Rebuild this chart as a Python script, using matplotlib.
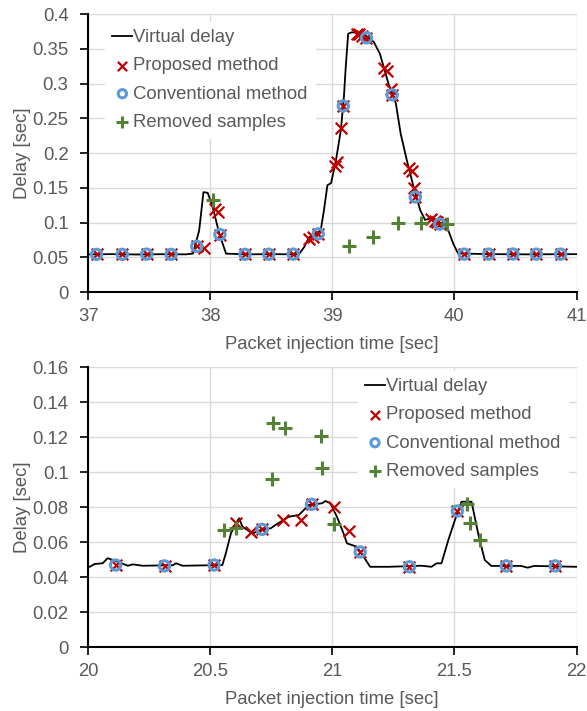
import matplotlib.pyplot as plt

plt.rcParams['font.family'] = ['Liberation Sans', 'DejaVu Sans']

## Top panel data (37-41 sec)
vd_t_top = [37.0, 37.2, 37.4, 37.6, 37.8, 37.86, 37.91, 37.945, 37.98, 38.02, 38.075, 38.13,
             38.3, 38.5, 38.7, 38.73, 38.77, 38.81, 38.86, 38.905, 38.93, 38.96, 38.99, 39.03,
             39.07, 39.095, 39.11, 39.13, 39.16, 39.22, 39.27, 39.34, 39.39, 39.46, 39.52,
             39.56, 39.61, 39.665, 39.72, 39.76, 39.80, 39.84, 39.91, 39.95, 39.99, 40.03,
             40.3, 40.6, 41.0]
vd_top = [0.0545, 0.0548, 0.0543, 0.0547, 0.0545, 0.0557, 0.089, 0.144, 0.143, 0.123, 0.084, 0.0555,
          0.0545, 0.0548, 0.0545, 0.0555, 0.065, 0.079, 0.084, 0.089, 0.116, 0.154, 0.157, 0.19,
          0.233, 0.281, 0.324, 0.372, 0.374, 0.373, 0.370, 0.360, 0.343, 0.300, 0.272,
          0.228, 0.19, 0.152, 0.118, 0.104, 0.106, 0.101, 0.099, 0.089, 0.070, 0.0557,
          0.0548, 0.0545, 0.0548]

prop_t_top = [37.07, 37.28, 37.48, 37.68, 37.89, 37.95, 38.04, 38.06, 38.08, 38.285, 38.48, 38.68,
              38.81, 38.84, 38.885, 39.02, 39.04, 39.07, 39.09, 39.20, 39.22, 39.24, 39.28,
              39.42, 39.45, 39.48, 39.49, 39.63, 39.65, 39.67, 39.68, 39.81, 39.84, 39.86, 39.88,
              40.08, 40.28, 40.48, 40.67, 40.87]
prop_top = [0.0545, 0.0545, 0.0548, 0.0545, 0.066, 0.064, 0.120, 0.115, 0.083, 0.0545, 0.0547, 0.0548,
            0.077, 0.080, 0.084, 0.182, 0.188, 0.237, 0.268, 0.372, 0.371, 0.369, 0.366,
            0.323, 0.318, 0.292, 0.284, 0.179, 0.174, 0.150, 0.137, 0.105, 0.103, 0.101, 0.098,
            0.0548, 0.0548, 0.055, 0.0548, 0.0548]

conv_t_top = [37.07, 37.28, 37.48, 37.68, 37.89, 38.08, 38.285, 38.48, 38.68, 38.885, 39.09,
              39.28, 39.49, 39.68, 39.88, 40.08, 40.28, 40.48, 40.67, 40.87]
conv_top = [0.0545, 0.0545, 0.0548, 0.0545, 0.066, 0.083, 0.0545, 0.0547, 0.0548, 0.084, 0.268,
            0.366, 0.284, 0.137, 0.098, 0.0548, 0.0548, 0.055, 0.0548, 0.0548]

rem_t_top = [38.02, 39.14, 39.33, 39.54, 39.73, 39.94]
rem_top = [0.132, 0.066, 0.079, 0.099, 0.099, 0.098]

## Bottom panel data (20-22 sec)
vd_t_bot = [20.0, 20.007, 20.027, 20.06, 20.08, 20.10, 20.13, 20.163, 20.183, 20.224, 20.347, 20.36,
            20.387, 20.55, 20.564, 20.585, 20.598, 20.618, 20.632, 20.673, 20.713, 20.748, 20.768,
            20.822, 20.863, 20.904, 20.958, 20.972, 20.992, 21.019, 21.046, 21.06, 21.10, 21.128,
            21.155, 21.23, 21.366, 21.406, 21.427, 21.447, 21.475, 21.502, 21.529, 21.57, 21.597,
            21.624, 21.651, 21.773, 21.80, 21.826, 22.0]
vd_bot = [0.046, 0.046, 0.0476, 0.048, 0.0509, 0.050, 0.0484, 0.0466, 0.0474, 0.0466, 0.0469, 0.048,
          0.0466, 0.047, 0.0537, 0.0651, 0.069, 0.0737, 0.069, 0.065, 0.0674, 0.068, 0.070,
          0.0746, 0.0756, 0.0813, 0.0823, 0.0836, 0.0823, 0.0746, 0.0651, 0.0594, 0.0575, 0.0518,
          0.046, 0.046, 0.0466, 0.046, 0.048, 0.048, 0.0613, 0.0727, 0.0832, 0.0832, 0.0651,
          0.0499, 0.0465, 0.0465, 0.0455, 0.0465, 0.046]

prop_t_bot = [20.113, 20.313, 20.516, 20.605, 20.666, 20.713, 20.80, 20.87, 20.915, 21.006, 21.067,
              21.114, 21.316, 21.512, 21.712, 21.913]
prop_bot = [0.047, 0.0465, 0.047, 0.0712, 0.066, 0.0674, 0.0727, 0.073, 0.0817, 0.080, 0.0666,
            0.0545, 0.046, 0.0779, 0.0465, 0.0465]

conv_t_bot = [20.113, 20.313, 20.516, 20.713, 20.915, 21.114, 21.316, 21.512, 21.712, 21.913]
conv_bot = [0.047, 0.0465, 0.047, 0.0674, 0.0817, 0.0545, 0.046, 0.0779, 0.0465, 0.0465]

rem_t_bot = [20.557, 20.605, 20.754, 20.758, 20.806, 20.955, 20.958, 21.006, 21.553, 21.563, 21.604]
rem_bot = [0.067, 0.068, 0.096, 0.128, 0.1255, 0.1207, 0.1027, 0.0703, 0.0819, 0.0712, 0.0613]

labels = ['Virtual delay', 'Proposed method', 'Conventional method', 'Removed samples']
gray = '#595959'
fs = 13.3
W, H = 587, 711


def draw(ax, vt, vd, pt, pv, ct, cv, rt, rv):
    ax.plot(vt, vd, color='black', lw=1.3, zorder=3, label=labels[0])
    ax.scatter(pt, pv, marker='x', s=70, color='#c00000', linewidths=1.6, zorder=4, label=labels[1])
    ax.scatter(ct, cv, marker='o', s=55, facecolors='none', edgecolors='#5b9bd5',
               linewidths=2.2, zorder=5, label=labels[2])
    ax.scatter(rt, rv, marker='+', s=100, color='#548235', linewidths=2.2, zorder=6, label=labels[3])
    ax.grid(True, color='#d9d9d9', lw=1.0, zorder=0)
    ax.set_axisbelow(True)
    for s in ['top', 'right']:
        ax.spines[s].set_visible(False)
    for s in ['left', 'bottom']:
        ax.spines[s].set_linewidth(1.5)
    ax.tick_params(axis='both', labelsize=fs, labelcolor=gray, length=6, width=1.2, direction='out')
    ax.tick_params(axis='y', pad=8)
    ax.tick_params(axis='x', pad=5.5)
    ax.set_xlabel('Packet injection time [sec]', fontsize=fs, color=gray, labelpad=7.5)
    ax.set_ylabel('Delay [sec]', fontsize=fs, color=gray, labelpad=1)


def legend(ax, x_px, y_px):
    ax.legend(loc='upper left', bbox_to_anchor=(x_px / W, 1 - y_px / H),
              bbox_transform=fig.transFigure, borderaxespad=0, fontsize=fs, frameon=True,
              framealpha=1, edgecolor='white', fancybox=False, handlelength=1.08,
              handletextpad=0.05, labelspacing=0.6, labelcolor=gray, borderpad=0.4,
              scatterpoints=1, markerscale=0.8)


def fmt(v):
    return ('%g' % round(v, 3))


fig = plt.figure(figsize=(5.87, 7.11), dpi=100)
ax1 = fig.add_axes([0.150, 0.589, 0.8322, 0.391])
ax2 = fig.add_axes([0.150, 0.0896, 0.8322, 0.3938])

draw(ax1, vd_t_top, vd_top, prop_t_top, prop_top, conv_t_top, conv_top, rem_t_top, rem_top)
ax1.set_xlim(37, 41)
ax1.set_ylim(0, 0.4)
yt1 = [i * 0.05 for i in range(9)]
ax1.set_yticks(yt1)
ax1.set_yticklabels([fmt(v) for v in yt1])
ax1.set_xticks([37, 38, 39, 40, 41])
legend(ax1, 105, 22)

draw(ax2, vd_t_bot, vd_bot, prop_t_bot, prop_bot, conv_t_bot, conv_bot, rem_t_bot, rem_bot)
ax2.set_xlim(20, 22)
ax2.set_ylim(0, 0.16)
yt2 = [i * 0.02 for i in range(9)]
ax2.set_yticks(yt2)
ax2.set_yticklabels([fmt(v) for v in yt2])
ax2.set_xticks([20, 20.5, 21, 21.5, 22])
ax2.set_xticklabels(['20', '20.5', '21', '21.5', '22'])
legend(ax2, 357.6, 371)

plt.savefig('out.png', dpi=100)
